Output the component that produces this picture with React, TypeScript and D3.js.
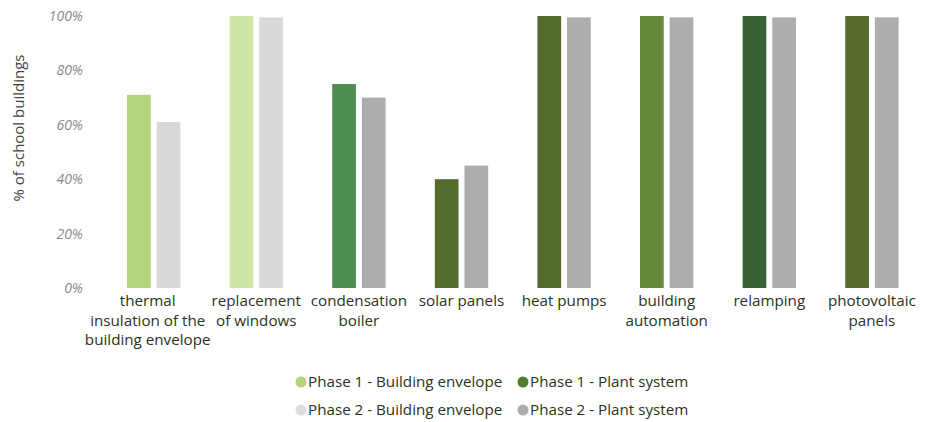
import React from "react";
import * as d3 from "d3";

const categories = [
  ["thermal", "insulation of the", "building envelope"],
  ["replacement", "of windows"],
  ["condensation", "boiler"],
  ["solar panels"],
  ["heat pumps"],
  ["building", "automation"],
  ["relamping"],
  ["photovoltaic", "panels"],
];
const phase1 = [71, 100, 75, 40, 100, 100, 100, 100];
const phase2 = [61, 99.5, 70, 45, 99.5, 99.5, 99.5, 99.5];
const phase1Colors = ["#b6d47b", "#d0e6a7", "#4f8c4f", "#556c2e", "#556c2e", "#66893b", "#3a6136", "#566b2d"];
const phase2Colors = ["#d9d9d9", "#dadada", "#adadad", "#adadad", "#adadad", "#adadad", "#adadad", "#adadad"];
const yTicks = [0, 20, 40, 60, 80, 100];
const legendItems = [
  { label: "Phase 1 - Building envelope", color: "#b5d47a" },
  { label: "Phase 1 - Plant system", color: "#55792e" },
  { label: "Phase 2 - Building envelope", color: "#dcdcdc" },
  { label: "Phase 2 - Plant system", color: "#adadad" },
];

export default function App() {
  const W = 927, H = 422;
  const idx = categories.map((_, i) => String(i));
  const x = d3.scaleBand().domain(idx).range([102.4, 923.2]).paddingInner(0.48).paddingOuter(0.24);
  const sub = d3.scaleBand().domain(["p1", "p2"]).range([0, x.bandwidth()]).paddingInner(0.2);
  const y = d3.scaleLinear().domain([0, 100]).range([288, 16]);
  const font = "'Open Sans', sans-serif";
  const textColor = "#2a3320";

  return (
    <svg width={W} height={H} style={{ position: "absolute", left: 0, top: 0, background: "#fff" }} fontFamily={font}>
      <text transform="translate(24,128) rotate(-90)" textAnchor="middle" fontSize={15} fill="#444" fontWeight={500}>
        % of school buildings
      </text>
      {yTicks.map((t) => (
        <text key={t} x={83} y={y(t)} dy="0.35em" textAnchor="end" fontSize={14} fontStyle="italic" fill="#8a8a8a">
          {t}%
        </text>
      ))}
      {categories.map((c, i) => {
        const x0 = x(String(i))!;
        const cx = x0 + x.bandwidth() / 2 - (i === 0 ? 6 : 0);
        return (
          <g key={i}>
            <rect x={x0 + sub("p1")!} y={y(phase1[i])} width={sub.bandwidth()} height={y(0) - y(phase1[i])} fill={phase1Colors[i]} />
            <rect x={x0 + sub("p2")!} y={y(phase2[i])} width={sub.bandwidth()} height={y(0) - y(phase2[i])} fill={phase2Colors[i]} />
            <text x={cx} y={306} textAnchor="middle" fontSize={15.2} fontWeight={500} fill={textColor}>
              {c.map((line, k) => (
                <tspan key={k} x={cx} dy={k === 0 ? 0 : 19.5}>
                  {line}
                </tspan>
              ))}
            </text>
          </g>
        );
      })}
      {legendItems.map((it, k) => {
        const col = k % 2, row = Math.floor(k / 2);
        const cx = col === 0 ? 301 : 523;
        const cy = row === 0 ? 382 : 410;
        return (
          <g key={k}>
            <circle cx={cx} cy={cy} r={5.5} fill={it.color} />
            <text x={cx + 7} y={cy} dy="0.35em" fontSize={15.2} fontWeight={500} fill={textColor}>
              {it.label}
            </text>
          </g>
        );
      })}
    </svg>
  );
}
